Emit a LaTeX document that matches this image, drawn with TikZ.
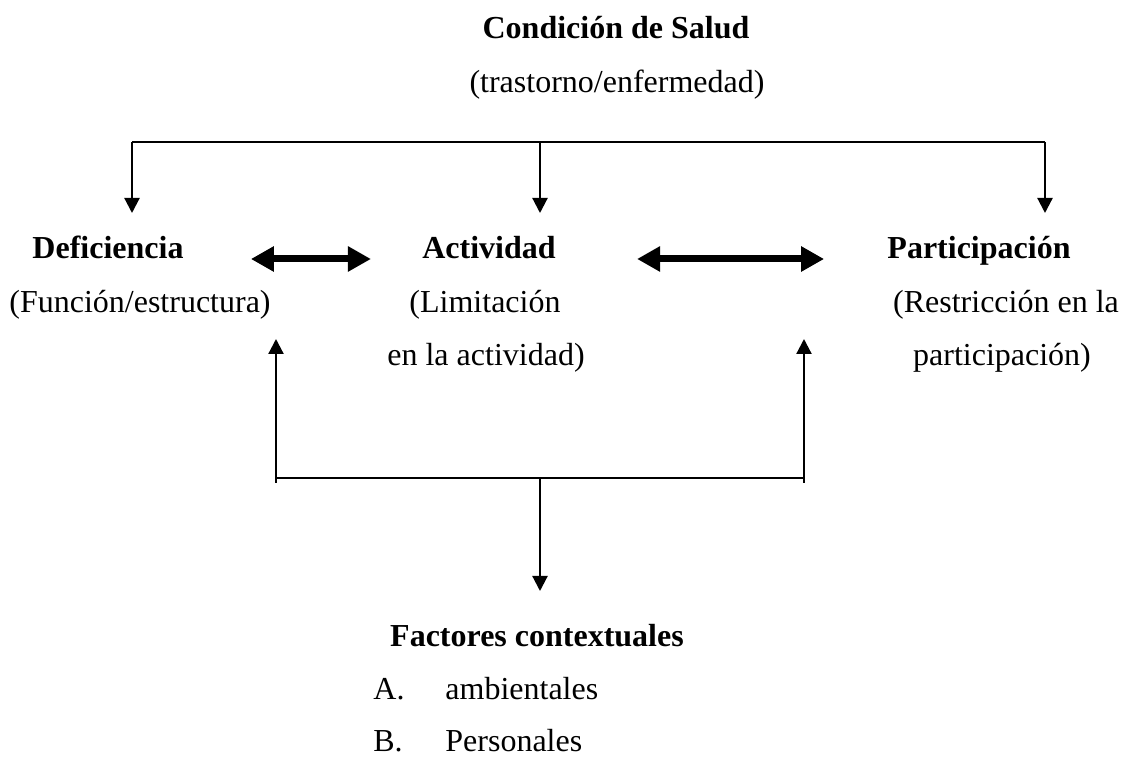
\documentclass[tikz,border=0pt]{standalone}
\usepackage{fontspec}
\setmainfont{Liberation Serif}
\usetikzlibrary{arrows.meta}

\tikzset{
  txt/.style={anchor=base, inner sep=0pt, font=\fontsize{16}{19}\selectfont},
  hd/.style={txt, font=\fontsize{16}{19}\selectfont\bfseries},
  line/.style={line width=1.1pt},
  thinarr/.style={line, -{Triangle[width=7.5pt,length=7.5pt]}},
  bigarr/.style={line width=3.5pt, {Triangle[width=12pt,length=11.5pt]}-{Triangle[width=12pt,length=11.5pt]}}
}

\begin{document}
\begin{tikzpicture}[x=0.5pt,y=-0.5pt]
\useasboundingbox (0,0) rectangle (1125,758);
% health condition
\node[hd] (cond) at (616,39) {Condición de Salud};
\node[txt] (tras) at (617,93) {(trastorno/enfermedad)};
% the three components
\node[hd] (defi) at (108,259) {Deficiencia};
\node[txt] (func) at (140,313) {(Función/estructura)};
\node[hd] (acti) at (489,259) {Actividad};
\node[txt] (limi) at (485,313) {(Limitación};
\node[txt] (enla) at (486,366) {en la actividad)};
\node[hd] (part) at (979,259) {Participación};
\node[txt] (rest) at (1006,313) {(Restricción en la};
\node[txt] (parp) at (1002,366) {participación)};
% contextual factors
\node[hd] (fact) at (537,647) {Factores contextuales};
\node[txt, anchor=base west] (lblA) at (373,700) {A.};
\node[txt, anchor=base west] (ambi) at (445,700) {ambientales};
\node[txt, anchor=base west] (lblB) at (373,752) {B.};
\node[txt, anchor=base west] (pers) at (445,752) {Personales};

% top bracket
\coordinate (tl) at (132,142);
\coordinate (tm) at (540,142);
\coordinate (tr) at (1045,142);
\coordinate (dtip) at (132,213);
\coordinate (atip) at (540,213);
\coordinate (ptip) at (1045,213);
\draw[line] (tl) -- (tr);
\draw[thinarr] (tl) -- (dtip);
\draw[thinarr] (tm) -- (atip);
\draw[thinarr] (tr) -- (ptip);

% double arrows
\draw[bigarr, shorten <=33.5pt, shorten >=25.5pt] (defi.base east) -- (acti.base west);
\draw[bigarr, shorten <=40.5pt, shorten >=31.5pt] (acti.base east) -- (part.base west);

% bottom bracket
\coordinate (bl) at (276,483);
\coordinate (br) at (804,483);
\coordinate (hl) at (276,478);
\coordinate (hm) at (540,478);
\coordinate (hr) at (804,478);
\coordinate (ltip) at (276,339);
\coordinate (rtip) at (804,339);
\coordinate (ftip) at (540,591);
\draw[thinarr] (bl) -- (ltip);
\draw[thinarr] (br) -- (rtip);
\draw[line] (hl) -- (hr);
\draw[thinarr] (hm) -- (ftip);
\end{tikzpicture}
\end{document}
